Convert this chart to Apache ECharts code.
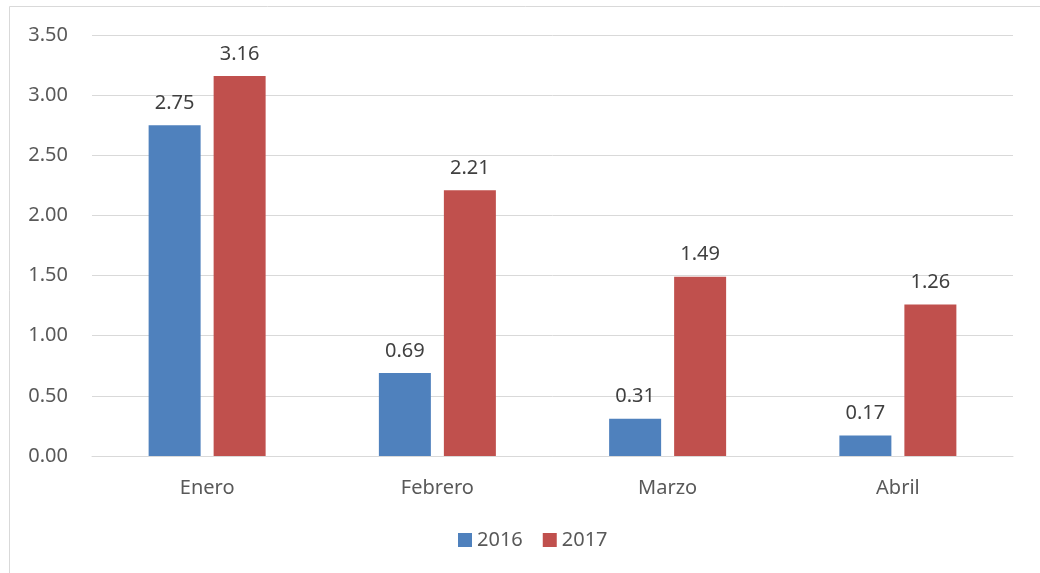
<!DOCTYPE html>
<html>
<head>
<meta charset="utf-8">
<script src="https://cdn.jsdelivr.net/npm/echarts@6/dist/echarts.min.js"></script>
<style>
  html, body { margin: 0; padding: 0; background: #fff; }
  #chart { width: 1040px; height: 573px; }
</style>
</head>
<body>
<div id="chart"></div>
<script>
var months = ["Enero", "Febrero", "Marzo", "Abril"];
var values2016 = [2.75, 0.69, 0.31, 0.17];
var values2017 = [3.16, 2.21, 1.49, 1.26];

var textColor = "#595959";
var fontFamily = "'Noto Sans', sans-serif";

var myChart = echarts.init(document.getElementById("chart"));

var labelStyle = {
  show: true,
  position: "top",
  distance: 12,
  color: "#404040",
  fontSize: 20,
  fontFamily: fontFamily,
  formatter: function (p) {
    return p.value.toFixed(2);
  },
};

myChart.setOption({
  backgroundColor: "#fff",
  animation: false,
  graphic: [
    {
      type: "rect",
      shape: { x: 9.5, y: 6.5, width: 1040, height: 600 },
      style: { fill: "none", stroke: "#d9d9d9", lineWidth: 1 },
      silent: true,
    },
  ],
  grid: {
    left: 92,
    right: 27,
    top: 35,
    bottom: 117,
  },
  legend: {
    bottom: 18,
    left: 453,
    icon: "rect",
    itemWidth: 14,
    itemHeight: 14,
    itemGap: 20,
    textStyle: {
      color: textColor,
      fontSize: 20,
      fontFamily: fontFamily,
    },
    data: ["2016", "2017"],
  },
  xAxis: {
    type: "category",
    data: months,
    axisTick: { show: false },
    axisLine: { lineStyle: { color: "#d9d9d9", width: 1 } },
    axisLabel: {
      color: textColor,
      fontSize: 20,
      fontFamily: fontFamily,
      margin: 22,
    },
  },
  yAxis: {
    type: "value",
    min: 0,
    max: 3.5,
    interval: 0.5,
    axisLine: { show: false },
    axisTick: { show: false },
    axisLabel: {
      color: textColor,
      fontSize: 20,
      fontFamily: fontFamily,
      margin: 24,
      formatter: function (v) {
        return v.toFixed(2);
      },
    },
    splitLine: { lineStyle: { color: "#d9d9d9", width: 1 } },
  },
  series: [
    {
      name: "2016",
      type: "bar",
      data: values2016,
      barWidth: 52,
      barGap: "25%",
      itemStyle: { color: "#4f81bd" },
      label: labelStyle,
    },
    {
      name: "2017",
      type: "bar",
      data: values2017,
      barWidth: 52,
      barGap: "25%",
      itemStyle: { color: "#c0504d" },
      label: labelStyle,
    },
  ],
});
</script>
</body>
</html>
